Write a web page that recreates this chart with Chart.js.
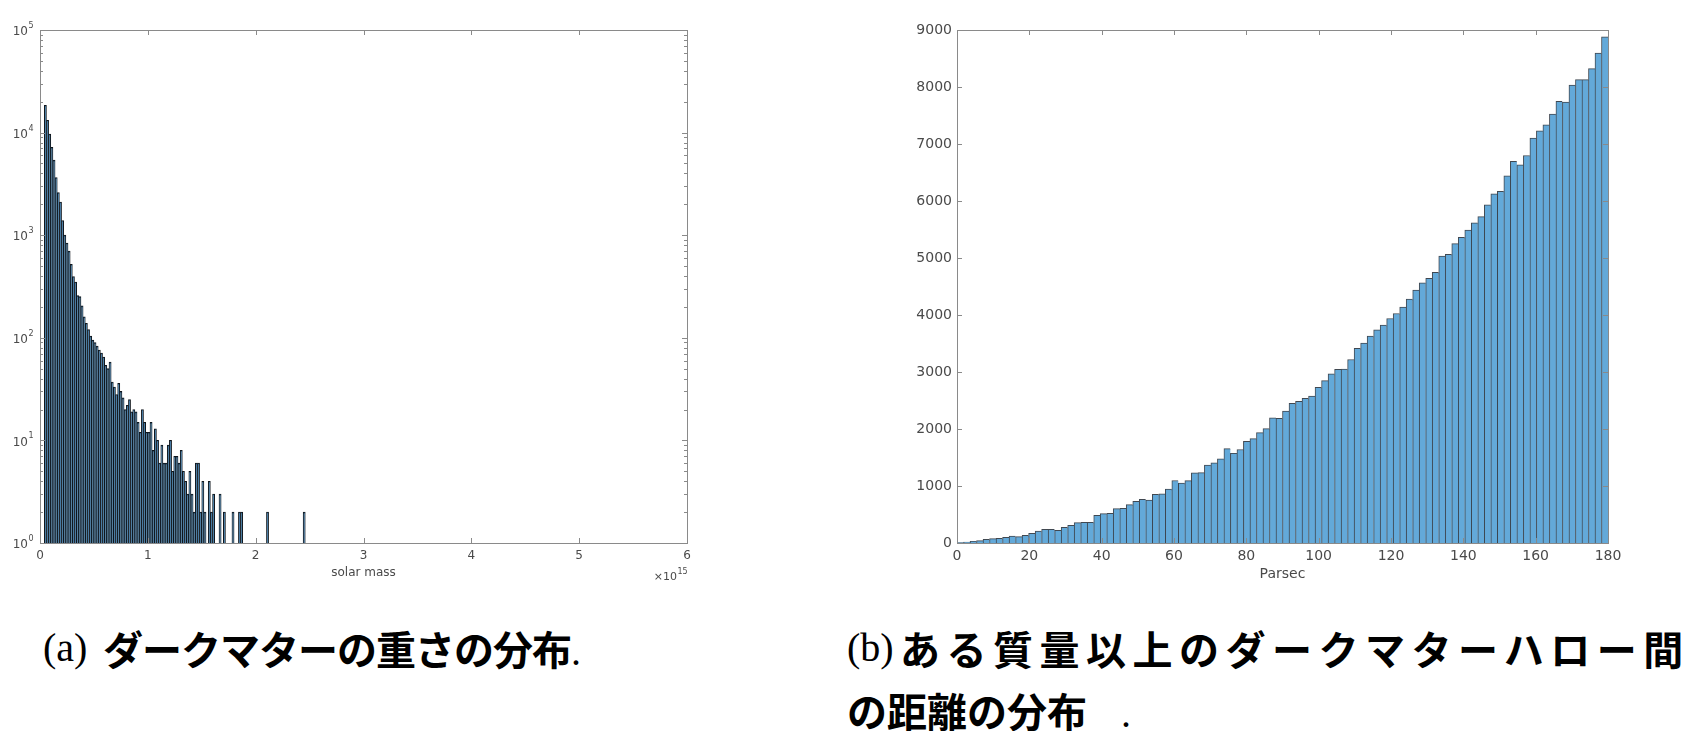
<!DOCTYPE html>
<html>
<head>
<meta charset="utf-8">
<script src="https://cdn.jsdelivr.net/npm/chart.js@4.4.1/dist/chart.umd.min.js"></script>
<style>
  body { margin: 0; background: #fff; width: 1691px; height: 731px; overflow: hidden; position: relative; }
  canvas { position: absolute; top: 0; }
  #massChart { left: 0; }
  #distChart { left: 880px; }
  .cap { position: absolute; white-space: nowrap; color: #000; line-height: 62px; }
  .jp { font-family: "Noto Sans CJK JP"; font-weight: 700; font-size: 40px; }
  .tag { font-family: "Liberation Serif"; font-size: 40px; font-weight: 400; letter-spacing: 0; }
</style>
</head>
<body>
<canvas id="massChart" width="720" height="600"></canvas>
<canvas id="distChart" width="811" height="600"></canvas>

<div class="cap tag" style="left:43px;top:617px">(a)</div>
<div class="cap jp" style="left:103px;top:617px;letter-spacing:-1px">ダークマターの重さの分布<span class="tag">.</span></div>
<div class="cap tag" style="left:847px;top:617px">(b)</div>
<div class="cap jp" style="left:900px;top:617px;letter-spacing:6.5px">ある質量以上のダークマターハロー間</div>
<div class="cap jp" style="left:847px;top:679px">の距離の分布<span class="tag" style="margin-left:34px">.</span></div>

<script>
// (a) halo mass histogram, x in units of 1e15 solar mass, bins of 0.02
var massBinStart = 0.04;
var massBinWidth = 0.02;
var massCounts = [
  18400, 13200, 9700, 7200, 5400, 3650, 2600, 2100, 1390, 1000,
  840, 700, 520, 395, 350, 258, 252, 205, 160, 138,
  120, 104, 95, 90, 83, 76, 71, 65, 54, 50,
  58, 37, 33, 28, 36, 30, 26, 20, 22, 25,
  19, 20, 19, 15, 12, 20, 15, 12, 12, 15,
  8, 13, 10, 6, 9, 6, 6, 9, 10, 5,
  7, 7, 6, 8, 5, 4, 3, 5, 3, 2,
  6, 6, 2, 4, 2, null, 4, 2, 3, null,
  null, 3, null, 2, null, null, null, 2, null, null,
  2, 2, null, null, null, null, null, null, null, null,
  null, null, null, 2, null, null, null, null, null, null,
  null, null, null, null, null, null, null, null, null, null,
  2
];
var massXTicks = [0, 1, 2, 3, 4, 5, 6];
var massYTicks = [1, 10, 100, 1000, 10000, 100000];
var massYExponents = ['0', '1', '2', '3', '4', '5'];
var massYMinor = [2, 3, 4, 5, 6, 7, 8, 9];

// (b) distance histogram in parsec, 100 bins over 0-180
var distBinWidth = 1.8;
var distCounts = [
  6, 18, 29, 41, 65, 76, 82, 100, 123, 111,
  135, 170, 211, 240, 240, 223, 276, 311, 358, 364,
  364, 487, 516, 522, 604, 610, 674, 733, 768, 751,
  856, 862, 944, 1097, 1050, 1095, 1230, 1235, 1365, 1405,
  1475, 1655, 1575, 1640, 1784, 1830, 1936, 2006, 2194, 2188,
  2314, 2450, 2485, 2537, 2578, 2730, 2850, 2967, 3046, 3052,
  3219, 3415, 3508, 3628, 3740, 3822, 3939, 4027, 4138, 4279,
  4437, 4566, 4643, 4748, 5035, 5064, 5252, 5363, 5492, 5615,
  5726, 5931, 6124, 6171, 6441, 6698, 6634, 6798, 7103, 7232,
  7337, 7525, 7747, 7735, 8034, 8128, 8128, 8321, 8596, 8878
];
var distXTicks = [0, 20, 40, 60, 80, 100, 120, 140, 160, 180];
var distYTicks = [0, 1000, 2000, 3000, 4000, 5000, 6000, 7000, 8000, 9000];

var barFill = '#63a9d9';
var massFill = '#3b79a8';
var axisGray = '#8a8a8a';
var labelGray = '#4a4a4a';

Chart.defaults.font.family = '"DejaVu Sans"';

// histogram points sit at bin centres
var massPoints = [];
for (var i = 0; i < massCounts.length; i++) {
  if (massCounts[i] !== null) {
    massPoints.push({x: massBinStart + massBinWidth * (i + 0.5), y: massCounts[i]});
  }
}
var distPoints = [];
for (var j = 0; j < distCounts.length; j++) {
  distPoints.push({x: distBinWidth * (j + 0.5), y: distCounts[j]});
}

// box around the plot with inward ticks on all four sides (matlab style)
var framePlugin = {
  id: 'frame',
  afterDraw: function(chart, args, opts) {
    var ctx = chart.ctx, a = chart.chartArea;
    var xs = chart.scales.x, ys = chart.scales.y;
    ctx.save();
    ctx.strokeStyle = opts.color;
    ctx.lineWidth = 1;
    ctx.beginPath();
    opts.xTicks.forEach(function(v) {
      var px = Math.round(xs.getPixelForValue(v)) + 0.5;
      ctx.moveTo(px, a.bottom); ctx.lineTo(px, a.bottom - opts.len);
      ctx.moveTo(px, a.top); ctx.lineTo(px, a.top + opts.len);
    });
    opts.yTicks.forEach(function(v) {
      var py = Math.round(ys.getPixelForValue(v)) + 0.5;
      ctx.moveTo(a.left, py); ctx.lineTo(a.left + opts.len, py);
      ctx.moveTo(a.right, py); ctx.lineTo(a.right - opts.len, py);
    });
    if (opts.minor) {
      for (var k = 0; k < opts.yTicks.length - 1; k++) {
        opts.minor.forEach(function(m) {
          var py = Math.round(ys.getPixelForValue(opts.yTicks[k] * m)) + 0.5;
          ctx.moveTo(a.left, py); ctx.lineTo(a.left + opts.minorLen, py);
          ctx.moveTo(a.right, py); ctx.lineTo(a.right - opts.minorLen, py);
        });
      }
    }
    ctx.stroke();
    ctx.strokeRect(Math.round(a.left) + 0.5, Math.round(a.top) + 0.5,
                   Math.round(a.right - a.left), Math.round(a.bottom - a.top));
    ctx.restore();
  }
};

// axis title under the plot, plus optional "x10^n" and 10^n y labels
var notesPlugin = {
  id: 'notes',
  afterDraw: function(chart, args, opts) {
    var ctx = chart.ctx, a = chart.chartArea, ys = chart.scales.y;
    ctx.save();
    ctx.fillStyle = opts.color;
    ctx.textBaseline = 'middle';
    ctx.textAlign = 'center';
    ctx.font = opts.titleSize + 'px "DejaVu Sans"';
    ctx.fillText(opts.title, (a.left + a.right) / 2, opts.titleY);
    if (opts.multiplier) {
      ctx.font = '11px "DejaVu Sans"';
      ctx.textAlign = 'right';
      ctx.fillText('\u00d710', a.right - 10, opts.titleY + 4);
      ctx.font = '8px "DejaVu Sans"';
      ctx.textAlign = 'left';
      ctx.fillText(opts.multiplier, a.right - 9.5, opts.titleY - 1);
    }
    if (opts.powers) {
      opts.powers.forEach(function(v, n) {
        var py = ys.getPixelForValue(v);
        ctx.font = '12px "DejaVu Sans"';
        ctx.textAlign = 'right';
        ctx.fillText('10', 28, py + 2);
        ctx.font = '8px "DejaVu Sans"';
        ctx.textAlign = 'left';
        ctx.fillText(opts.exponents[n], 28.5, py - 4);
      });
    }
    ctx.restore();
  }
};

new Chart(document.getElementById('massChart'), {
  type: 'bar',
  data: {
    datasets: [{
      data: massPoints,
      backgroundColor: massFill,
      borderColor: '#10161c',
      borderWidth: {left: 1, right: 1, top: 1, bottom: 0},
      barPercentage: 1,
      categoryPercentage: 1
    }]
  },
  options: {
    responsive: false,
    animation: false,
    devicePixelRatio: 1,
    layout: {padding: {top: 30, right: 33, left: 0, bottom: 0}},
    plugins: {
      legend: {display: false},
      tooltip: {enabled: false},
      frame: {xTicks: massXTicks, yTicks: massYTicks, minor: massYMinor, len: 5, minorLen: 3, color: axisGray},
      notes: {title: 'solar mass', titleY: 573, titleSize: 12, color: labelGray,
              multiplier: '15', powers: massYTicks, exponents: massYExponents}
    },
    scales: {
      x: {
        type: 'linear', min: 0, max: 6, offset: false,
        grid: {display: false, drawTicks: false},
        border: {display: false},
        afterBuildTicks: function(s) { s.ticks = massXTicks.map(function(v) { return {value: v}; }); },
        ticks: {font: {size: 12}, color: labelGray, padding: 6, maxRotation: 0,
                callback: function(v) { return String(v); }},
        afterFit: function(s) { s.height = 57; }
      },
      y: {
        type: 'logarithmic', min: 1, max: 100000,
        grid: {display: false, drawTicks: false},
        border: {display: false},
        ticks: {display: false},
        afterFit: function(s) { s.width = 40; }
      }
    }
  },
  plugins: [framePlugin, notesPlugin]
});

new Chart(document.getElementById('distChart'), {
  type: 'bar',
  data: {
    datasets: [{
      data: distPoints,
      backgroundColor: barFill,
      borderColor: 'rgba(30,40,50,0.85)',
      borderWidth: {left: 1, right: 0, top: 1, bottom: 0},
      barPercentage: 1,
      categoryPercentage: 1
    }]
  },
  options: {
    responsive: false,
    animation: false,
    devicePixelRatio: 1,
    layout: {padding: {top: 30, right: 83, left: 0, bottom: 0}},
    plugins: {
      legend: {display: false},
      tooltip: {enabled: false},
      frame: {xTicks: distXTicks, yTicks: distYTicks, len: 5, color: axisGray},
      notes: {title: 'Parsec', titleY: 574, titleSize: 14, color: labelGray}
    },
    scales: {
      x: {
        type: 'linear', min: 0, max: 180, offset: false,
        grid: {display: false, drawTicks: false},
        border: {display: false},
        afterBuildTicks: function(s) { s.ticks = distXTicks.map(function(v) { return {value: v}; }); },
        ticks: {font: {size: 14}, color: labelGray, padding: 5, maxRotation: 0,
                callback: function(v) { return String(v); }},
        afterFit: function(s) { s.height = 57; }
      },
      y: {
        type: 'linear', min: 0, max: 9000,
        grid: {display: false, drawTicks: false},
        border: {display: false},
        afterBuildTicks: function(s) { s.ticks = distYTicks.map(function(v) { return {value: v}; }); },
        ticks: {font: {size: 14}, color: labelGray, padding: 5,
                callback: function(v) { return String(v); }},
        afterFit: function(s) { s.width = 77; }
      }
    }
  },
  plugins: [framePlugin, notesPlugin]
});
</script>
</body>
</html>
